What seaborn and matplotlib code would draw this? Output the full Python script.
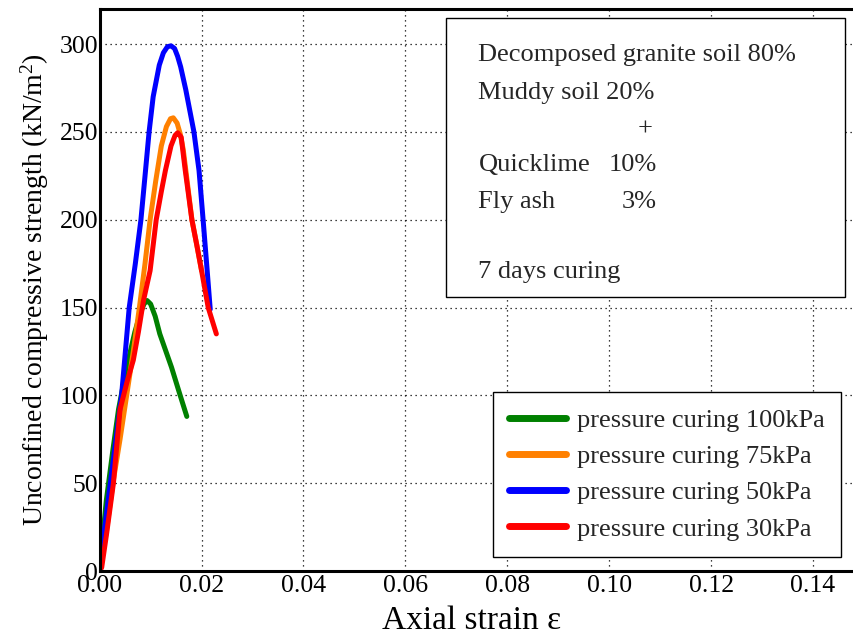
import numpy as np
import pandas as pd
import matplotlib
matplotlib.use("Agg")
import matplotlib.pyplot as plt
from matplotlib.patches import Rectangle
import seaborn as sns

# Stress-strain curves for each curing pressure
series_names = ["pressure curing 100kPa", "pressure curing 75kPa",
                "pressure curing 50kPa", "pressure curing 30kPa"]
series_colors = ["#008000", "#ff8000", "#0000ff", "#ff0000"]

strain_100 = [0, 0.0007, 0.0013, 0.0026, 0.0037, 0.0053, 0.0069, 0.0080, 0.0087,
              0.0093, 0.0100, 0.0109, 0.0118, 0.0141, 0.0158, 0.0171]
stress_100 = [0, 22, 40, 69, 92, 116, 136, 147, 152, 154, 152, 145, 135, 116, 100, 88]

strain_75 = [0, 0.0013, 0.0026, 0.0040, 0.0053, 0.0066, 0.0078, 0.0089, 0.0099,
             0.0110, 0.0121, 0.0131, 0.0139, 0.01445, 0.0152, 0.0158, 0.0164,
             0.0170, 0.0181, 0.0191, 0.0200]
stress_75 = [0, 22, 50, 75, 100, 125, 150, 175, 200, 222, 242, 253, 257.5, 258,
             255, 249, 240, 226, 200, 185, 171]

strain_50 = [0, 0.0010, 0.0021, 0.0032, 0.0043, 0.0058, 0.0070, 0.0081, 0.0090,
             0.0097, 0.0105, 0.0117, 0.0125, 0.0133, 0.0140, 0.0147, 0.0153,
             0.0159, 0.0169, 0.0185, 0.0195, 0.0203, 0.0211, 0.0217]
stress_50 = [0, 25, 50, 75, 100, 150, 175, 200, 228, 250, 270, 288, 295, 298.5,
             299, 297.5, 293, 287, 274, 250, 228, 200, 171, 149]

strain_30 = [0, 0.0004, 0.0014, 0.0027, 0.0040, 0.0054, 0.0066, 0.0076, 0.0086,
             0.0099, 0.0111, 0.0121, 0.0129, 0.0140, 0.0148, 0.0153, 0.0160,
             0.0168, 0.0181, 0.0191, 0.0200, 0.0213, 0.0229]
stress_30 = [0, 2, 22, 50, 92, 108, 120, 136, 154, 171, 200, 216, 228, 242, 248,
             249.5, 247, 228, 200, 185, 171, 150, 135]

x_ticks = [0.00, 0.02, 0.04, 0.06, 0.08, 0.10, 0.12, 0.14]
y_ticks = [0, 50, 100, 150, 200, 250, 300]

mix_lines = ["Decomposed granite soil 80%", "Muddy soil 20%", "+",
             "Quicklime", "Fly ash", "7 days curing"]
mix_amounts = ["10%", "3%"]

frames = []
for name, xs, ys in zip(series_names,
                        [strain_100, strain_75, strain_50, strain_30],
                        [stress_100, stress_75, stress_50, stress_30]):
    frames.append(pd.DataFrame({"strain": xs, "stress": ys, "series": name}))
df = pd.concat(frames, ignore_index=True)

sns.set_theme(style="white")
plt.rcParams["font.family"] = ["Liberation Serif", "DejaVu Serif"]
plt.rcParams["mathtext.fontset"] = "custom"
plt.rcParams["mathtext.rm"] = "Liberation Serif"
plt.rcParams["mathtext.it"] = "Liberation Serif:italic"

fig = plt.figure(figsize=(8.54, 6.38), dpi=100)
ax = fig.add_axes([0.1167, 0.105, 0.895, 0.881])

sns.lineplot(data=df, x="strain", y="stress", hue="series",
             hue_order=series_names, palette=series_colors,
             sort=False, estimator=None, linewidth=3.6, ax=ax)

ax.set_xlim(0, 0.15)
ax.set_ylim(0, 320)
ax.set_xticks(x_ticks)
ax.set_xticklabels([f"{v:.2f}" for v in x_ticks])
ax.set_yticks(y_ticks)
ax.set_yticklabels([str(v) for v in y_ticks])
ax.set_xticks(np.arange(0.01, 0.15, 0.02), minor=True)
ax.set_yticks(np.arange(25, 320, 50), minor=True)
ax.tick_params(which="major", direction="in", length=8, width=1.5,
               labelsize=18.5, pad=3, colors="black")
ax.tick_params(which="minor", direction="in", length=4, width=1.5)
ax.tick_params(axis="y", pad=1)
ax.grid(True, which="major", linestyle=(0, (1, 3)), color="black", linewidth=0.9)

for side in ["left", "bottom", "top"]:
    ax.spines[side].set_linewidth(2.2)
    ax.spines[side].set_color("black")
ax.spines["right"].set_visible(False)

ax.set_xlabel("Axial strain ε", fontsize=24, color="black")
ax.xaxis.set_label_coords(0.486, -0.062)
ax.set_ylabel(r"Unconfined compressive strength (kN/m$^{2}$)", fontsize=20,
              labelpad=6, color="black")

# Mix composition box
ax.add_patch(Rectangle((0.453, 0.4875), 0.522, 0.4965, transform=ax.transAxes,
                       facecolor="white", edgecolor="black", linewidth=1.0,
                       zorder=5))
text_x = 0.4955
text_y = [0.918, 0.8505, 0.785, 0.7224, 0.6566, 0.532]
for label, yy in zip(mix_lines, text_y):
    if label == "+":
        ax.text(0.714, yy, label, transform=ax.transAxes, ha="center",
                va="center", fontsize=19, zorder=6)
    else:
        ax.text(text_x, yy, label, transform=ax.transAxes, ha="left",
                va="center", fontsize=19, zorder=6)
for label, yy in zip(mix_amounts, text_y[3:5]):
    ax.text(0.729, yy, label, transform=ax.transAxes, ha="right",
            va="center", fontsize=19, zorder=6)

leg = ax.legend(loc="lower right", bbox_to_anchor=(0.970, 0.025),
                borderaxespad=0, fontsize=19, frameon=True, fancybox=False,
                edgecolor="black", framealpha=1, handlelength=2.15,
                handletextpad=0.42, labelspacing=0.48, borderpad=0.62)
leg.get_frame().set_linewidth(1.0)
for line in leg.get_lines():
    line.set_linewidth(5)

fig.savefig("out.png", dpi=100)
